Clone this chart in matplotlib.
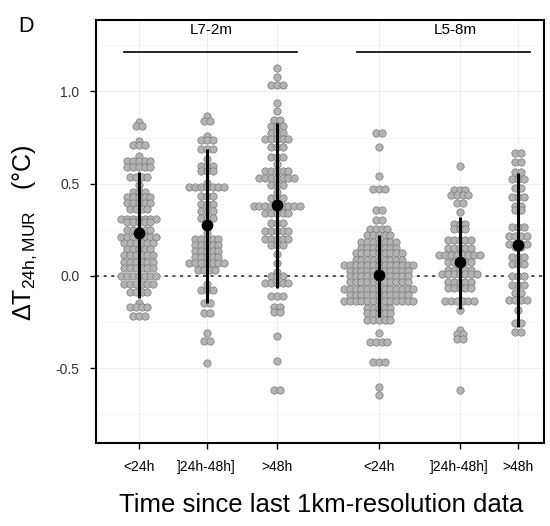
import numpy as np
import matplotlib.pyplot as plt
from matplotlib.ticker import MultipleLocator

plt.rcParams['font.family'] = ['Liberation Sans', 'DejaVu Sans']
plt.rcParams['mathtext.fontset'] = 'custom'
plt.rcParams['mathtext.rm'] = 'Liberation Sans'

tick_labels = ["<24h", "]24h-48h]", ">48h", "<24h", "]24h-48h]", ">48h"]
site_names = ["L7-2m", "L5-8m"]

# each dot row: y value and how many dots sit side by side
g1_y = [0.835, 0.81, 0.73, 0.71, 0.65, 0.623, 0.59, 0.536, 0.49, 0.455, 0.43, 0.395, 0.36,
        0.31, 0.29, 0.25, 0.21, 0.18, 0.146, 0.114, 0.076, 0.043, 0.0, -0.045, -0.085,
        -0.146, -0.168, -0.217]
g1_n = [1, 2, 1, 3, 1, 5, 5, 4, 1, 3, 5, 5, 4, 7, 5, 5, 7, 6, 5, 6, 6, 6, 7, 6, 4, 1, 4, 3]

g2_y = [0.868, 0.84, 0.758, 0.737, 0.688, 0.634, 0.596, 0.569, 0.505, 0.48, 0.433, 0.39,
        0.354, 0.316, 0.28, 0.235, 0.2, 0.168, 0.135, 0.105, 0.07, 0.03, -0.045, -0.076,
        -0.148, -0.2, -0.307, -0.352, -0.473]
g2_n = [1, 2, 1, 3, 3, 1, 3, 3, 1, 7, 3, 3, 3, 3, 1, 1, 5, 5, 5, 5, 7, 4, 1, 3, 2, 2, 1, 2, 1]

g3_y = [1.125, 1.08, 1.035, 0.935, 0.894, 0.845, 0.814, 0.776, 0.742, 0.70, 0.646, 0.605,
        0.569, 0.529, 0.493, 0.457, 0.421, 0.379, 0.34, 0.285, 0.245, 0.199, 0.168, 0.119,
        0.072, 0.023, -0.003, -0.04, -0.108, -0.166, -0.197, -0.323, -0.459, -0.618]
g3_n = [1, 1, 3, 1, 1, 2, 3, 3, 5, 3, 3, 1, 5, 7, 3, 1, 3, 9, 5, 3, 5, 5, 3, 1, 1, 1, 3, 5,
        3, 2, 2, 1, 1, 2]

g4_y = [0.776, 0.70, 0.542, 0.47, 0.357, 0.303, 0.253, 0.222, 0.186, 0.153, 0.123, 0.087,
        0.06, 0.029, 0.0, -0.034, -0.07, -0.103, -0.135, -0.175, -0.202, -0.238, -0.31,
        -0.356, -0.464, -0.6, -0.645]
g4_n = [2, 1, 1, 3, 2, 2, 4, 5, 7, 7, 9, 9, 13, 11, 11, 11, 13, 11, 13, 5, 5, 5, 1, 4, 3, 1, 1]

g5_y = [0.598, 0.466, 0.44, 0.394, 0.348, 0.28, 0.253, 0.195, 0.15, 0.114, 0.077, 0.033,
        0.009, -0.031, -0.067, -0.134, -0.184, -0.293, -0.315, -0.34, -0.618]
g5_n = [1, 3, 4, 2, 1, 3, 3, 5, 5, 8, 5, 5, 7, 5, 5, 6, 1, 1, 2, 2, 1]

g6_y = [0.665, 0.616, 0.565, 0.524, 0.475, 0.426, 0.379, 0.357, 0.267, 0.217, 0.173, 0.155,
        0.105, 0.065, 0.0, -0.049, -0.09, -0.132, -0.184, -0.256, -0.302]
g6_n = [2, 2, 2, 3, 2, 3, 2, 2, 3, 4, 4, 2, 3, 3, 3, 3, 2, 4, 1, 2, 2]

# mean and error bar ends
means = [0.23, 0.276, 0.383, 0.004, 0.077, 0.168]
err_lo = [-0.12, -0.148, -0.067, -0.22, -0.179, -0.275]
err_hi = [0.565, 0.69, 0.827, 0.222, 0.321, 0.556]

rows_y = [g1_y, g2_y, g3_y, g4_y, g5_y, g6_y]
rows_n = [g1_n, g2_n, g3_n, g4_n, g5_n, g6_n]
xpos = [0.63, 1.63, 2.66, 4.16, 5.35, 6.21]
dot_step = 0.085

fig = plt.figure(figsize=(5.5, 5.26), dpi=100)
ax = fig.add_axes([0.1745, 0.158, 0.8145, 0.804])

ax.axhline(0, color='#222222', ls=(0, (2, 3)), lw=1.1, zorder=1)

for x0, ys, ns in zip(xpos, rows_y, rows_n):
    for y, n in zip(ys, ns):
        xs = x0 + (np.arange(n) - (n - 1) / 2) * dot_step
        ax.scatter(xs, np.full(n, y), s=28, facecolor='#b3b3b3', edgecolor='#7a7a7a',
                   linewidth=0.5, zorder=2)

for x0, m, lo, hi in zip(xpos, means, err_lo, err_hi):
    ax.plot([x0, x0], [lo, hi], color='black', lw=2.2, zorder=3, solid_capstyle='butt')
    ax.scatter([x0], [m], s=55, color='black', zorder=4)

# site brackets
ax.plot([0.41, 2.96], [1.213, 1.213], color='black', lw=1.2)
ax.plot([3.84, 6.38], [1.213, 1.213], color='black', lw=1.2)
ax.text(1.69, 1.333, site_names[0], ha='center', va='center', fontsize=11)
ax.text(5.28, 1.333, site_names[1], ha='center', va='center', fontsize=11)

ax.set_xlim(0, 6.59)
ax.set_ylim(-0.905, 1.387)
ax.set_xticks(xpos)
ax.set_xticklabels(tick_labels, fontsize=10)
ax.set_yticks([-0.5, 0.0, 0.5, 1.0])
ax.set_yticklabels(['-0.5', '0.0', '0.5', '1.0'], fontsize=10, color='#333333')
ax.yaxis.set_minor_locator(MultipleLocator(0.25))
ax.tick_params(axis='y', which='minor', length=0)
ax.tick_params(axis='both', which='major', length=4, width=1, pad=8)
ax.grid(which='major', color='#ebebeb', lw=0.6, zorder=0)
ax.grid(which='minor', axis='y', color='#f2f2f2', lw=0.5, zorder=0)
ax.set_axisbelow(True)
for sp in ax.spines.values():
    sp.set_linewidth(1.5)

fig.text(25 / 550, 1 - 233 / 526, r'ΔT$_{\mathrm{24h,MUR}}$   (°C)', rotation=90,
         ha='center', va='center', fontsize=18)
fig.text(321 / 550, 1 - 505 / 526, 'Time since last 1km-resolution data',
         ha='center', va='center', fontsize=18.5)
fig.text(26 / 550, 1 - 26 / 526, 'D', ha='center', va='center', fontsize=15.5)

fig.savefig('out.png', dpi=100)
